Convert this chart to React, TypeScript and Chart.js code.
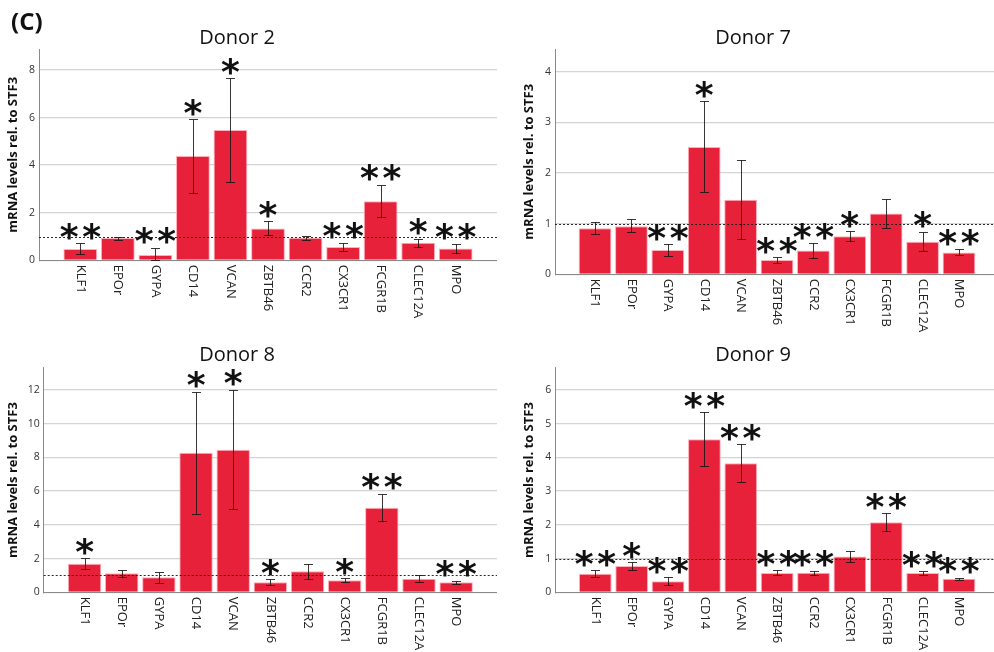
import React, { useEffect, useRef } from "react";
import { Chart, registerables } from "chart.js";

Chart.register(...registerables);

// Genes on the x axis (same order in every panel)
const genes = ["KLF1", "EPOr", "GYPA", "CD14", "VCAN", "ZBTB46", "CCR2", "CX3CR1", "FCGR1B", "CLEC12A", "MPO"];

// Donor 2
const donor2Mean = [0.48, 0.94, 0.22, 4.38, 5.48, 1.34, 0.95, 0.56, 2.48, 0.74, 0.5];
const donor2Upper = [0.71, 0.99, 0.53, 5.93, 7.65, 1.64, 1.04, 0.74, 3.17, 0.91, 0.7];
const donor2Lower = [0.27, 0.85, 0.0, 2.84, 3.31, 1.08, 0.87, 0.38, 1.81, 0.57, 0.31];
const donor2Sig = ["**", "", "**", "*", "*", "*", "", "**", "**", "*", "**"];
const donor2Ticks = [0, 2, 4, 6, 8];
const donor2Max = 8.87;

// Donor 7
const donor7Mean = [0.91, 0.95, 0.48, 2.51, 1.47, 0.28, 0.47, 0.75, 1.2, 0.64, 0.43];
const donor7Upper = [1.04, 1.09, 0.59, 3.41, 2.26, 0.34, 0.61, 0.85, 1.48, 0.84, 0.49];
const donor7Lower = [0.79, 0.83, 0.36, 1.62, 0.7, 0.22, 0.33, 0.65, 0.91, 0.45, 0.375];
const donor7Sig = ["", "", "**", "*", "", "**", "**", "*", "", "*", "**"];
const donor7Ticks = [0, 1, 2, 3, 4];
const donor7Max = 4.44;

// Donor 8
const donor8Mean = [1.7, 1.13, 0.89, 8.28, 8.46, 0.59, 1.25, 0.71, 5.02, 0.81, 0.59];
const donor8Upper = [2.02, 1.34, 1.23, 11.9, 12.0, 0.77, 1.68, 0.83, 5.85, 1.05, 0.69];
const donor8Lower = [1.4, 0.91, 0.57, 4.67, 4.92, 0.42, 0.81, 0.59, 4.21, 0.59, 0.47];
const donor8Sig = ["*", "", "", "*", "*", "*", "", "*", "**", "", "**"];
const donor8Ticks = [0, 2, 4, 6, 8, 10, 12];
const donor8Max = 13.32;

// Donor 9
const donor9Mean = [0.55, 0.78, 0.33, 4.54, 3.83, 0.57, 0.58, 1.06, 2.08, 0.57, 0.4];
const donor9Upper = [0.66, 0.89, 0.45, 5.34, 4.39, 0.65, 0.64, 1.23, 2.35, 0.63, 0.43];
const donor9Lower = [0.44, 0.67, 0.22, 3.75, 3.26, 0.5, 0.52, 0.89, 1.81, 0.51, 0.36];
const donor9Sig = ["**", "*", "**", "**", "**", "**", "**", "", "**", "**", "**"];
const donor9Ticks = [0, 1, 2, 3, 4, 5, 6];
const donor9Max = 6.66;

const referenceLevel = 1;
const yAxisTitle = "mRNA levels rel. to STF3";
const figureTag = "(C)";

type PanelData = {
  title: string;
  mean: number[];
  upper: number[];
  lower: number[];
  sig: string[];
  ticks: number[];
  yMax: number;
};

type Frame = {
  left: number;
  top: number;
  w: number;
  h: number;
  areaLeft: number;
  areaTop: number;
  areaBottom: number;
  titleX: number;
  titleBase: number;
  yTitleX: number;
  tag?: boolean;
};

const panels: PanelData[] = [
  { title: "Donor 2", mean: donor2Mean, upper: donor2Upper, lower: donor2Lower, sig: donor2Sig, ticks: donor2Ticks, yMax: donor2Max },
  { title: "Donor 7", mean: donor7Mean, upper: donor7Upper, lower: donor7Lower, sig: donor7Sig, ticks: donor7Ticks, yMax: donor7Max },
  { title: "Donor 8", mean: donor8Mean, upper: donor8Upper, lower: donor8Lower, sig: donor8Sig, ticks: donor8Ticks, yMax: donor8Max },
  { title: "Donor 9", mean: donor9Mean, upper: donor9Upper, lower: donor9Lower, sig: donor9Sig, ticks: donor9Ticks, yMax: donor9Max },
];

const frames: Frame[] = [
  { left: 0, top: 0, w: 497, h: 326, areaLeft: 39, areaTop: 49.3, areaBottom: 260.3, titleX: 237, titleBase: 44.3, yTitleX: 13, tag: true },
  { left: 497, top: 0, w: 502, h: 340, areaLeft: 58, areaTop: 49.3, areaBottom: 274.3, titleX: 256, titleBase: 44.3, yTitleX: 32 },
  { left: 0, top: 326, w: 497, h: 326, areaLeft: 43.7, areaTop: 41.7, areaBottom: 266.3, titleX: 237, titleBase: 35, yTitleX: 13 },
  { left: 497, top: 326, w: 502, h: 326, areaLeft: 58.3, areaTop: 41.7, areaBottom: 266.3, titleX: 256, titleBase: 35, yTitleX: 32 },
];

const BAR_RED = "#E8213A";
const FONT = '"Open Sans", "DejaVu Sans", sans-serif';
const STAR_FONT = 'bold 36px "DejaVu Sans", sans-serif';

function makeOverlay(d: PanelData, f: Frame) {
  return {
    id: "panelOverlay",
    afterDatasetsDraw(chart: any) {
      const { ctx, chartArea } = chart;
      const xs = chart.scales.x;
      const ys = chart.scales.y;

      // dotted reference line at 1
      ctx.save();
      ctx.strokeStyle = "rgba(20,20,20,0.9)";
      ctx.lineWidth = 1;
      ctx.setLineDash([2, 2]);
      const yRef = Math.round(ys.getPixelForValue(referenceLevel)) + 0.5;
      ctx.beginPath();
      ctx.moveTo(chartArea.left, yRef);
      ctx.lineTo(chartArea.right, yRef);
      ctx.stroke();
      ctx.restore();

      // error bars
      ctx.save();
      ctx.strokeStyle = "rgba(25,20,20,0.85)";
      ctx.lineWidth = 1;
      const cap = 4.5;
      d.mean.forEach((_, i) => {
        const x = Math.round(xs.getPixelForValue(i)) + 0.5;
        const yHi = Math.round(ys.getPixelForValue(d.upper[i])) + 0.5;
        const yLo = Math.round(ys.getPixelForValue(d.lower[i])) + 0.5;
        ctx.beginPath();
        ctx.moveTo(x, yHi);
        ctx.lineTo(x, yLo);
        ctx.moveTo(x - cap, yHi);
        ctx.lineTo(x + cap, yHi);
        ctx.moveTo(x - cap, yLo);
        ctx.lineTo(x + cap, yLo);
        ctx.stroke();
      });
      ctx.restore();

      // significance asterisks above the error bars
      ctx.save();
      ctx.font = STAR_FONT;
      ctx.fillStyle = "#111";
      ctx.textAlign = "center";
      ctx.textBaseline = "alphabetic";
      const m = ctx.measureText("*");
      const asc = m.actualBoundingBoxAscent;
      const desc = m.actualBoundingBoxDescent;
      d.sig.forEach((s, i) => {
        if (!s) return;
        const x = xs.getPixelForValue(i);
        const cy = ys.getPixelForValue(d.upper[i]) - 12;
        const base = cy - (desc - asc) / 2;
        const n = s.length;
        const gap = 22.5;
        for (let k = 0; k < n; k++) {
          const cx = x + (k - (n - 1) / 2) * gap;
          ctx.fillText("*", cx, base);
        }
      });
      ctx.restore();
    },
    afterDraw(chart: any) {
      const { ctx, chartArea } = chart;
      const xs = chart.scales.x;

      ctx.save();
      // panel title
      ctx.fillStyle = "#111";
      ctx.font = `20px ${FONT}`;
      ctx.textAlign = "center";
      ctx.textBaseline = "alphabetic";
      ctx.fillText(d.title, f.titleX, f.titleBase);

      // y axis title
      ctx.save();
      ctx.translate(f.yTitleX, (chartArea.top + chartArea.bottom) / 2);
      ctx.rotate(-Math.PI / 2);
      ctx.font = `bold 13px ${FONT}`;
      ctx.textAlign = "center";
      ctx.textBaseline = "middle";
      ctx.fillStyle = "#111";
      ctx.fillText(yAxisTitle, 0, 0);
      ctx.restore();

      // gene names, turned to read downwards
      ctx.font = `13px ${FONT}`;
      ctx.fillStyle = "#222";
      ctx.textAlign = "left";
      ctx.textBaseline = "middle";
      genes.forEach((g, i) => {
        const x = xs.getPixelForValue(i);
        ctx.save();
        ctx.translate(x, chartArea.bottom + 4.5);
        ctx.rotate(Math.PI / 2);
        ctx.fillText(g, 0, 0);
        ctx.restore();
      });

      if (f.tag) {
        ctx.font = `bold 24px ${FONT}`;
        ctx.textAlign = "left";
        ctx.textBaseline = "alphabetic";
        ctx.fillStyle = "#111";
        ctx.fillText(figureTag, 11, 29.5);
      }
      ctx.restore();
    },
  };
}

function PanelChart({ d, f }: { d: PanelData; f: Frame }) {
  const ref = useRef<HTMLCanvasElement | null>(null);
  useEffect(() => {
    const canvas = ref.current;
    if (!canvas) return;
    const chart = new Chart(canvas, {
      type: "bar",
      data: {
        datasets: [
          {
            data: d.mean.map((y, i) => ({ x: i, y })),
            backgroundColor: BAR_RED,
            borderColor: "rgba(255,170,182,0.95)",
            borderWidth: 1,
            barPercentage: 0.9,
            categoryPercentage: 1,
          } as any,
        ],
      },
      options: {
        animation: false,
        responsive: false,
        maintainAspectRatio: false,
        layout: { padding: { left: 0, right: 0, top: f.areaTop, bottom: 0 } },
        plugins: {
          legend: { display: false },
          tooltip: { enabled: false },
          title: { display: false },
        },
        scales: {
          x: {
            type: "linear",
            min: -1.1,
            max: 11.1,
            offset: false,
            grid: { display: false, drawTicks: false, offset: false },
            border: { display: true, color: "#8a8a8a", width: 1 },
            ticks: { display: false },
            afterFit: (s: any) => {
              s.height = f.h - f.areaBottom;
            },
          },
          y: {
            min: 0,
            max: d.yMax,
            grid: { color: "#d4d4d4", lineWidth: 1.3, drawTicks: false },
            border: { display: true, color: "#8a8a8a", width: 1 },
            ticks: {
              font: { family: FONT, size: 10.5 },
              color: "#333",
              padding: 4,
            },
            afterBuildTicks: (s: any) => {
              s.ticks = d.ticks.map((v) => ({ value: v }));
            },
            afterFit: (s: any) => {
              s.width = f.areaLeft;
            },
          },
        },
      } as any,
      plugins: [makeOverlay(d, f)],
    });
    return () => chart.destroy();
  }, [d, f]);

  return (
    <canvas
      ref={ref}
      width={f.w}
      height={f.h}
      style={{ position: "absolute", left: f.left, top: f.top, width: f.w, height: f.h }}
    />
  );
}

export default function App() {
  return (
    <div
      style={{
        position: "absolute",
        left: 0,
        top: 0,
        width: 994,
        height: 652,
        overflow: "hidden",
        background: "#ffffff",
      }}
    >
      {panels.map((d, i) => (
        <PanelChart key={d.title} d={d} f={frames[i]} />
      ))}
    </div>
  );
}
